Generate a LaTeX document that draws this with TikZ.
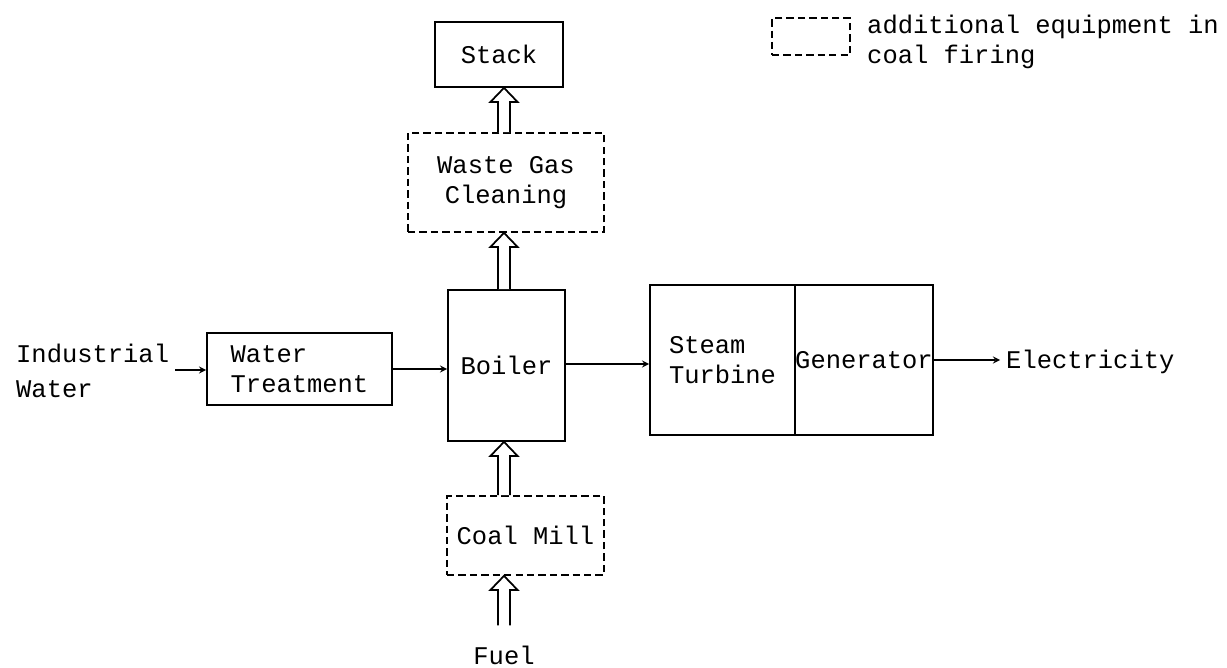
\documentclass[tikz,border=0pt]{standalone}
\usepackage{fontspec}
\setmainfont{Liberation Mono}
\usetikzlibrary{calc}
\tikzset{
  unit/.style={draw,line width=1pt,align=center,inner sep=0pt},
  extra/.style={unit,dash pattern=on 4.2pt off 2.3pt},
  flow/.style={->,line width=0.8pt},
  fat/.style={line width=1pt,fill=white,line join=miter},
}
% hollow arrow from #1 up to #2
\newcommand{\fatup}[2]{%
  \draw[fat] let \p1=(#1), \p2=(#2) in
    (\x1-3.4pt,\y1) -- (\x1-3.4pt,\y2-8pt) -- (\x1-7.7pt,\y2-8pt) -- (\x1,\y2)
    -- (\x1+7.7pt,\y2-8pt) -- (\x1+3.4pt,\y2-8pt) -- (\x1+3.4pt,\y1);}
\begin{document}
\begin{tikzpicture}[x=0.02cm,y=-0.02cm,>=stealth,every node/.style={font=\fontsize{14.5}{17}\selectfont}]
  \useasboundingbox (0,0) rectangle (1227,668);
  % units
  \node[unit,minimum width=128*0.02cm,minimum height=65*0.02cm] (stack) at (499,54.5) {Stack};
  \node[extra,minimum width=196*0.02cm,minimum height=99*0.02cm] (gas) at (506,182.5) {Waste Gas\\Cleaning};
  \node[unit,minimum width=117*0.02cm,minimum height=151*0.02cm] (boiler) at (506.5,365.5) {Boiler};
  \node[unit,align=left,minimum width=185*0.02cm,minimum height=72*0.02cm] (treat) at (299.5,369) {Water\\Treatment};
  \node[unit,align=left,minimum width=145*0.02cm,minimum height=150*0.02cm] (turb) at (722.5,360) {Steam\\Turbine};
  \node[unit,minimum width=138*0.02cm,minimum height=150*0.02cm] (gen) at (864,360) {Generator};
  \node[extra,minimum width=157*0.02cm,minimum height=79*0.02cm] (mill) at (525.5,535.5) {Coal Mill};
  % inputs and outputs
  \node[align=left,anchor=west,font=\fontsize{14.5}{20}\selectfont] (water) at (10,371) {Industrial\\Water};
  \node[anchor=west] (elec) at (1000,362) {Electricity};
  \node (fuel) at (504,655) {Fuel};
  % legend
  \node[extra,minimum width=78*0.02cm,minimum height=37*0.02cm] (legbox) at (811,36.5) {};
  \node[align=left,anchor=west] (legtext) at (861,42) {additional equipment in\\coal firing};
  % flows
  \draw[flow] (water.east |- 0,370) -- (treat.west |- 0,370);
  \draw[flow] (treat.east |- 0,369) -- (boiler.west |- 0,369);
  \draw[flow] (boiler.east |- 0,364) -- (turb.west |- 0,364);
  \draw[flow] (gen.east |- 0,360) -- (elec.west |- 0,360);
  \fatup{$(gas.north)+(-2,0)$}{stack.south}
  \fatup{$(boiler.north)+(-2.5,0)$}{gas.south}
  \fatup{$(mill.north)+(-21.5,0)$}{boiler.south}
  \fatup{$(fuel.north)+(0,-14)$}{$(mill.south)+(-21.5,0)$}
\end{tikzpicture}
\end{document}
